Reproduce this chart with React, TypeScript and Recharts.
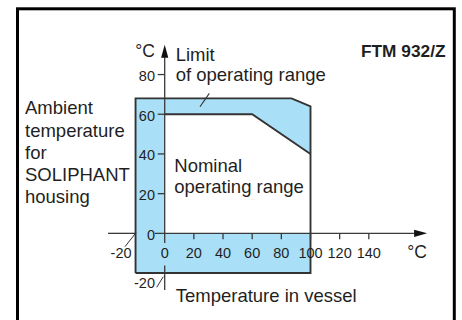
import React from 'react';
import { ComposedChart, XAxis, YAxis, Area, Line, ReferenceLine, ReferenceDot } from 'recharts';

// Temperature in vessel (°C) vs ambient temperature (°C)
const limitTop = [
  { t: -20, v: 68 },
  { t: 87, v: 68 },
  { t: 100, v: 64 },
];
const limitBase = -20;
const limitOutline = [
  { t: -20, v: -20 },
  { t: -20, v: 68 },
  { t: 87, v: 68 },
  { t: 100, v: 64 },
  { t: 100, v: -20 },
  { t: -20, v: -20 },
];
const nominalTop = [
  { t: 0, v: 60 },
  { t: 60, v: 60 },
  { t: 100, v: 40 },
];
const nominalBase = 0;
const xTicks = [-20, 0, 20, 40, 60, 80, 100, 120, 140];
const yTicks = [-20, 0, 20, 40, 60, 80];
const leftLabel = ['Ambient', 'temperature', 'for', 'SOLIPHANT', 'housing'];

const FONT = '"Liberation Sans", Arial, Helvetica, sans-serif';
const INK = '#1f1f1f';
const AXIS = '#3a3a3a';
const EDGE = '#333333';
const BLUE = '#aadff8';
const TICK_FS = 14.5;
const TEXT_FS = 18.5;

const ArrowLine = (p: any) => {
  const { x1, y1, x2, y2 } = p;
  const dx = x2 - x1;
  const dy = y2 - y1;
  const len = Math.hypot(dx, dy) || 1;
  const ux = dx / len;
  const uy = dy / len;
  const L = 13;
  const W = 3.6;
  const bx = x2 - ux * L;
  const by = y2 - uy * L;
  return (
    <g>
      <line x1={x1} y1={y1} x2={bx + ux} y2={by + uy} stroke={AXIS} strokeWidth={1.3} />
      <polygon
        points={`${x2},${y2} ${bx - uy * W},${by + ux * W} ${bx + uy * W},${by - ux * W}`}
        fill="#111"
      />
    </g>
  );
};

const PlainLine = (p: any) => (
  <line x1={p.x1} y1={p.y1} x2={p.x2} y2={p.y2} stroke={AXIS} strokeWidth={1.3} />
);

const LeaderLine = (p: any) => (
  <line x1={p.x1} y1={p.y1} x2={p.x2} y2={p.y2} stroke={EDGE} strokeWidth={1.1} />
);

const XTick = ({ cx, cy, value }: any) => {
  if (value === -20) {
    return (
      <g>
        <line x1={cx - 10.5} y1={cy + 13.3} x2={cx + 0.5} y2={cy - 0.7} stroke={EDGE} strokeWidth={1} />
        <text x={cx - 14.5} y={cy + 25} textAnchor="middle" fontSize={TICK_FS} fontFamily={FONT} fill={INK}>
          {String(value)}
        </text>
      </g>
    );
  }
  return (
    <g>
      {value !== 0 && <line x1={cx} y1={cy} x2={cx} y2={cy + 6} stroke={AXIS} strokeWidth={1.3} />}
      <text x={cx} y={cy + 25} textAnchor="middle" fontSize={TICK_FS} fontFamily={FONT} fill={INK}>
        {String(value)}
      </text>
    </g>
  );
};

const YTick = ({ cx, cy, value }: any) => {
  if (value === -20) {
    return (
      <g>
        <line x1={cx - 8} y1={cy + 14.3} x2={cx - 1.4} y2={cy + 3.6} stroke={EDGE} strokeWidth={1} />
        <text x={cx - 9.7} y={cy + 15} textAnchor="end" fontSize={TICK_FS} fontFamily={FONT} fill={INK}>
          {String(value)}
        </text>
      </g>
    );
  }
  return (
    <g>
      {value !== 0 && <line x1={cx - 7} y1={cy} x2={cx} y2={cy} stroke={AXIS} strokeWidth={1.3} />}
      <text x={cx - 9.7} y={cy + 6.3} textAnchor="end" fontSize={TICK_FS} fontFamily={FONT} fill={INK}>
        {String(value)}
      </text>
    </g>
  );
};

export default function App() {
  return (
    <div
      style={{
        position: 'absolute',
        left: 0,
        top: 0,
        width: 462,
        height: 320,
        background: '#fff',
        overflow: 'hidden',
      }}
    >
      <ComposedChart
        width={462}
        height={320}
        margin={{ top: 34.85, right: 34.86, bottom: 7.25, left: 106.38 }}
      >
        <XAxis type="number" dataKey="t" domain={[-40, 180]} allowDataOverflow hide />
        <YAxis type="number" dataKey="v" domain={[-40, 100]} allowDataOverflow hide />
        <Area
          data={limitTop}
          dataKey="v"
          type="linear"
          baseValue={limitBase}
          fill={BLUE}
          fillOpacity={1}
          stroke="none"
          isAnimationActive={false}
          dot={false}
          activeDot={false}
        />
        <Area
          data={nominalTop}
          dataKey="v"
          type="linear"
          baseValue={nominalBase}
          fill="#ffffff"
          fillOpacity={1}
          stroke="none"
          isAnimationActive={false}
          dot={false}
          activeDot={false}
        />
        <Line
          data={nominalTop}
          dataKey="v"
          type="linear"
          stroke={EDGE}
          strokeWidth={1.9}
          dot={false}
          activeDot={false}
          isAnimationActive={false}
        />
        <Line
          data={limitOutline}
          dataKey="v"
          type="linear"
          stroke={EDGE}
          strokeWidth={1.9}
          dot={false}
          activeDot={false}
          isAnimationActive={false}
        />
        {/* x axis */}
        <ReferenceLine segment={[{ x: -38.9, y: 0 }, { x: -20, y: 0 }]} shape={PlainLine} />
        <ReferenceLine segment={[{ x: -6.7, y: 0 }, { x: 180, y: 0 }]} shape={ArrowLine} />
        {/* y axis */}
        <ReferenceLine segment={[{ x: 0, y: -28.5 }, { x: 0, y: -16.2 }]} shape={PlainLine} />
        <ReferenceLine segment={[{ x: 0, y: -4.9 }, { x: 0, y: 95 }]} shape={ArrowLine} />
        {/* leader to limit band */}
        <ReferenceLine segment={[{ x: 24.2, y: 63.8 }, { x: 30.6, y: 70.5 }]} shape={LeaderLine} />
        {xTicks.map((v) => (
          <ReferenceDot
            key={'x' + v}
            x={v}
            y={0}
            r={0}
            shape={(p: any) => <XTick {...p} value={v} />}
          />
        ))}
        {yTicks.map((v) => (
          <ReferenceDot
            key={'y' + v}
            x={0}
            y={v}
            r={0}
            shape={(p: any) => <YTick {...p} value={v} />}
          />
        ))}
      </ComposedChart>
      <svg
        width={462}
        height={320}
        style={{ position: 'absolute', left: 0, top: 0, pointerEvents: 'none' }}
      >
        <rect x={17.5} y={8.8} width={436.8} height={340} fill="none" stroke="#000" strokeWidth={3} />
        <g fontFamily={FONT} fill={INK}>
          <text x={155} y={57.3} textAnchor="end" fontSize={17.5}>°C</text>
          <text x={175.7} y={60.5} fontSize={TEXT_FS}>Limit</text>
          <text x={175.7} y={81.3} fontSize={TEXT_FS}>of operating range</text>
          <text x={445.5} y={57.3} textAnchor="end" fontSize={17.3} fontWeight="bold">FTM 932/Z</text>
          {leftLabel.map((s, i) => (
            <text key={s} x={25} y={114.3 + i * 22.25} fontSize={TEXT_FS}>{s}</text>
          ))}
          <text x={174.3} y={171.7} fontSize={TEXT_FS}>Nominal</text>
          <text x={174.3} y={193.3} fontSize={TEXT_FS}>operating range</text>
          <text x={427} y={257.8} textAnchor="end" fontSize={17.5}>°C</text>
          <text x={175.7} y={301.7} fontSize={TEXT_FS}>Temperature in vessel</text>
        </g>
      </svg>
    </div>
  );
}
